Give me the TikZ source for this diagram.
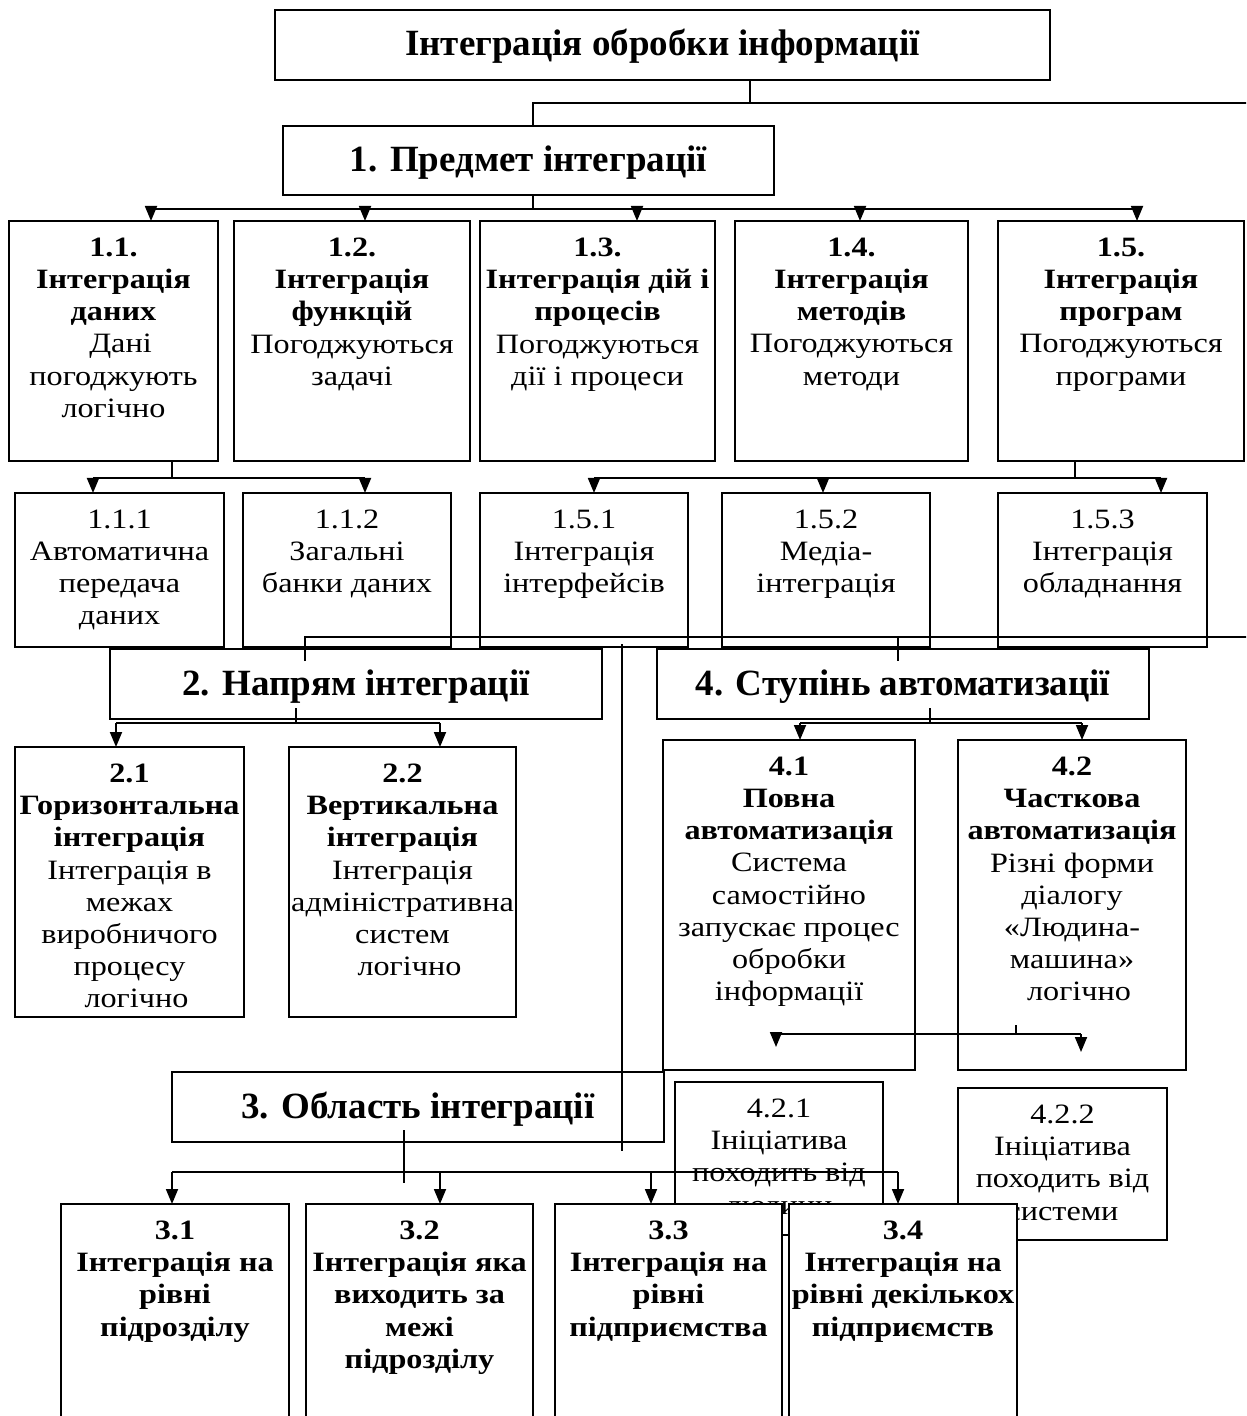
\documentclass[tikz,border=0pt]{standalone}
\usepackage{fontspec}
\setmainfont{Liberation Serif}
\newfontfamily\bodyfont{Liberation Serif}[FakeStretch=1.15]
\usetikzlibrary{arrows.meta,calc}

\tikzset{
  frame/.style={draw, line width=1pt, fill=white, inner sep=0pt, outer sep=0pt},
  body/.style={inner sep=0pt, align=center, anchor=north,
               font=\bodyfont\fontsize{14}{16.1}\selectfont,
               execute at begin node=\strut},
  head/.style={inner sep=0pt, anchor=base, font=\fontsize{18.5}{21}\selectfont\bfseries},
  bus/.style={line width=0.9pt},
  thin/.style={line width=0.55pt},
  arr/.style={line width=0.9pt, -{Triangle[width=6pt,length=7.5pt]}},
}

% box with its top-aligned centred text; #1 name, (#2,#3) top left, (#4,#5) bottom right
\newcommand\diabox[6]{%
  \node[frame, anchor=north west, minimum width={(#4-#2)*0.5pt},
        minimum height={(#5-#3)*0.5pt}] (#1) at (#2,#3) {};
  \node[body] (#1-t) at ($(#1.north)+(0,16.5)$) {#6};}
% heading box with one line of large bold text
\newcommand\headbox[6]{%
  \node[frame, anchor=north west, minimum width={(#4-#2)*0.5pt},
        minimum height={(#5-#3)*0.5pt}] (#1) at (#2,#3) {};
  \node[head] (#1-t) at ($(#1.north)+(0,46)$) {#6};}
\newcommand\hb[1]{\textbf{#1}}
% line set a little right of centre
\newcommand\sh[1]{\hspace*{7pt}#1}

\begin{document}
\begin{tikzpicture}[x=0.5pt, y=-0.5pt]
\clip (0,0) rectangle (1246,1416);
\fill[white] (0,0) rectangle (1246,1416);

% top levels
\headbox{T}{275}{10}{1050}{80}{Інтеграція обробки інформації}
\headbox{B1}{283}{126}{774}{195}{1. Предмет інтеграції}

% 1.x
\diabox{n11}{9}{221}{218}{461}{\hb{1.1.}\\\hb{Інтеграція}\\\hb{даних}\\\sh{Дані}\\погоджують\\логічно}
\diabox{n12}{234}{221}{470}{461}{\hb{1.2.}\\\hb{Інтеграція}\\\hb{функцій}\\Погоджуються\\задачі}
\diabox{n13}{480}{221}{715}{461}{\hb{1.3.}\\\hb{Інтеграція дій і}\\\hb{процесів}\\Погоджуються\\дії і процеси}
\diabox{n14}{735}{221}{968}{461}{\hb{1.4.}\\\hb{Інтеграція}\\\hb{методів}\\Погоджуються\\методи}
\diabox{n15}{998}{221}{1244}{461}{\hb{1.5.}\\\hb{Інтеграція}\\\hb{програм}\\Погоджуються\\програми}

% 1.1.x and 1.5.x
\diabox{n111}{15}{493}{224}{647}{1.1.1\\Автоматична\\передача\\даних}
\diabox{n112}{243}{493}{451}{647}{1.1.2\\Загальні\\банки даних}
\diabox{n151}{480}{493}{688}{647}{1.5.1\\Інтеграція\\інтерфейсів}
\diabox{n152}{722}{493}{930}{647}{1.5.2\\Медіа-\\інтеграція}
\diabox{n153}{998}{493}{1207}{647}{1.5.3\\Інтеграція\\обладнання}

% 2 and 4
\headbox{n2}{110}{649}{602}{719}{2. Напрям інтеграції}
\headbox{n4}{657}{649}{1149}{719}{4. Ступінь автоматизації}

\diabox{n21}{15}{747}{244}{1017}{\hb{2.1}\\\hb{Горизонтальна}\\\hb{інтеграція}\\Інтеграція в\\межах\\виробничого\\процесу\\\sh{логічно}}
\diabox{n22}{289}{747}{516}{1017}{\hb{2.2}\\\hb{Вертикальна}\\\hb{інтеграція}\\Інтеграція\\адміністративна\\систем\\\sh{логічно}}
\diabox{n41}{663}{740}{915}{1070}{\hb{4.1}\\\hb{Повна}\\\hb{автоматизація}\\Система\\самостійно\\запускає процес\\обробки\\інформації}
\diabox{n42}{958}{740}{1186}{1070}{\hb{4.2}\\\hb{Часткова}\\\hb{автоматизація}\\Різні форми\\діалогу\\«Людина-\\машина»\\\sh{логічно}}

% 3 and 4.2.x
\headbox{n3}{172}{1072}{664}{1142}{3. Область інтеграції}
\diabox{n421}{675}{1082}{883}{1235}{4.2.1\\Ініціатива\\походить від\\людини}
\diabox{n422}{958}{1088}{1167}{1240}{4.2.2\\Ініціатива\\походить від\\системи}

% connector points
\coordinate (c0) at (750,103);
\coordinate (c1) at (533,103);
\coordinate (e1) at (1260,103);
\coordinate (c2) at (533,209);
\coordinate (p11) at (151,209);
\coordinate (p12) at (365,209);
\coordinate (p13) at (637,209);
\coordinate (p14) at (860,209);
\coordinate (p15) at (1137,209);
\coordinate (q0) at (172,478);
\coordinate (q1) at (93,478);
\coordinate (q2) at (365,478);
\coordinate (r0) at (1075,478);
\coordinate (r1) at (594,478);
\coordinate (r2) at (823,478);
\coordinate (r3) at (1161,478);
\coordinate (s0) at (305,661);
\coordinate (s1) at (305,637);
\coordinate (s2) at (1260,637);
\coordinate (s3) at (898,637);
\coordinate (s4) at (898,661);
\coordinate (s5) at (622,644);
\coordinate (s6) at (622,1151);
\coordinate (u0) at (296,708);
\coordinate (u1) at (296,723);
\coordinate (u2) at (116,723);
\coordinate (u3) at (440,723);
\coordinate (v0) at (930,708);
\coordinate (v1) at (930,723);
\coordinate (v2) at (800,723);
\coordinate (v3) at (1082,723);
\coordinate (w0) at (1016,1025);
\coordinate (w1) at (1016,1034);
\coordinate (w2) at (776,1034);
\coordinate (w3) at (1081,1034);
\coordinate (z0) at (404,1130);
\coordinate (z1) at (404,1183);
\coordinate (z2) at (172,1172);
\coordinate (z3) at (898,1172);
\coordinate (z4) at (440,1172);
\coordinate (z5) at (651,1172);

% connectors of level 1
\draw[thin] (T.south -| c0) -- (c0);
\draw[bus] (e1) -- (c1) -- (B1.north -| c1);
\draw[thin] (B1.south -| c2) -- (c2);
\draw[bus] (p11) -- (p15);
\foreach \p/\n in {p11/n11, p12/n12, p13/n13, p14/n14, p15/n15}
  \draw[arr] (\p) -- (\p |- \n.north);

\draw[thin] (n11.south -| q0) -- (q0);
\draw[bus] (q1) -- (q2);
\draw[arr] (q1) -- (q1 |- n111.north);
\draw[arr] (q2) -- (q2 |- n112.north);

\draw[thin] (n15.south -| r0) -- (r0);
\draw[bus] (r1) -- (r3);
\foreach \p/\n in {r1/n151, r2/n152, r3/n153}
  \draw[arr] (\p) -- (\p |- \n.north);

% long lines across the middle
\draw[thin] (s0) -- (s1) -- (s2);
\draw[thin] (s3) -- (s4);
\draw[thin] (s5) -- (s6);

% branches of 2 and 4
\draw[thin] (u0) -- (u1);
\draw[bus] (u2) -- (u3);
\draw[arr] (u2) -- (u2 |- n21.north);
\draw[arr] (u3) -- (u3 |- n22.north);

\draw[thin] (v0) -- (v1);
\draw[bus] (v2) -- (v3);
\draw[arr] (v2) -- (v2 |- n41.north);
\draw[arr] (v3) -- (v3 |- n42.north);

\draw[thin] (w0) -- (w1);
\draw[bus] (w2) -- (w3);
\draw[arr] (w2) -- ++(0,13);
\draw[arr] (w3) -- ++(0,18);

% branch of 3
\draw[thin] (z0) -- (z1);
\draw[bus] (z2) -- (z3);

% 3.x boxes overlap the 4.2.x boxes
\diabox{n31}{61}{1204}{289}{1440}{\hb{3.1}\\\hb{Інтеграція на}\\\hb{рівні}\\\hb{підрозділу}}
\diabox{n32}{306}{1204}{533}{1440}{\hb{3.2}\\\hb{Інтеграція яка}\\\hb{виходить за}\\\hb{межі}\\\hb{підрозділу}}
\diabox{n33}{555}{1204}{782}{1440}{\hb{3.3}\\\hb{Інтеграція на}\\\hb{рівні}\\\hb{підприємства}}
\diabox{n34}{789}{1204}{1017}{1440}{\hb{3.4}\\\hb{Інтеграція на}\\\hb{рівні декількох}\\\hb{підприємств}}

\foreach \p/\n in {z2/n31, z4/n32, z5/n33, z3/n34}
  \draw[arr] (\p) -- (\p |- \n.north);
\end{tikzpicture}
\end{document}
